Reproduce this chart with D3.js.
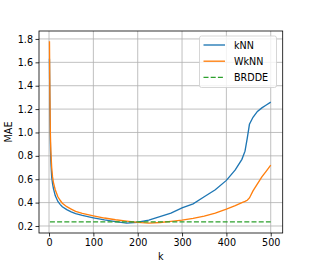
<!DOCTYPE html>
<html>
<head>
<meta charset="utf-8">
<script src="https://cdn.jsdelivr.net/npm/d3@7"></script>
<style>
body { margin: 0; background: #fff; }
svg text { font-family: "DejaVu Sans", sans-serif; fill: #000; }
.grid line { stroke: #b0b0b0; stroke-width: 0.8; }
.axis path { display: none; }
.axis line { stroke: #000; stroke-width: 0.8; }
</style>
</head>
<body>
<svg id="chart" width="314" height="262"></svg>
<script>
var ks = [1, 2, 3, 4, 6, 8, 10, 14, 20, 25, 30, 40, 50, 60, 75, 100, 125, 150, 175, 200,
          225, 250, 275, 300, 325, 350, 375, 400, 420, 435, 442, 447, 452, 460, 470, 480, 490, 500];
var knn = [1.63, 1.2, 0.92, 0.76, 0.62, 0.56, 0.52, 0.46, 0.41, 0.385, 0.365, 0.34, 0.32, 0.305, 0.29, 0.27, 0.252, 0.238, 0.225, 0.232,
           0.25, 0.28, 0.31, 0.355, 0.39, 0.45, 0.51, 0.59, 0.68, 0.77, 0.84, 0.95, 1.07, 1.13, 1.18, 1.21, 1.235, 1.26];
var wknn = [1.78, 1.3, 1.0, 0.85, 0.7, 0.62, 0.57, 0.51, 0.45, 0.42, 0.395, 0.365, 0.345, 0.325, 0.308, 0.287, 0.268, 0.253, 0.241, 0.231,
            0.225, 0.23, 0.24, 0.25, 0.265, 0.285, 0.31, 0.345, 0.375, 0.4, 0.41, 0.42, 0.44, 0.5, 0.56, 0.62, 0.67, 0.72];
var brdde = 0.235;
var brddeRange = [2, 500];

var xTicks = [0, 100, 200, 300, 400, 500];
var yTicks = [0.2, 0.4, 0.6, 0.8, 1.0, 1.2, 1.4, 1.6, 1.8];
var legendNames = ['kNN', 'WkNN', 'BRDDE'];
var colors = ['#1f77b4', '#ff7f0e', '#2ca02c'];

var plot = { left: 39, top: 31, right: 282.7, bottom: 233 };
var svg = d3.select('#chart');

var x = d3.scaleLinear().domain([-22.6, 527]).range([plot.left, plot.right]);
var y = d3.scaleLinear().domain([0.14, 1.868]).range([plot.bottom, plot.top]);

// grid
var grid = svg.append('g').classed('grid', true);
grid.selectAll('.gx').data(xTicks).enter().append('line')
    .attr('x1', function(d) { return x(d); })
    .attr('x2', function(d) { return x(d); })
    .attr('y1', plot.top).attr('y2', plot.bottom);
grid.selectAll('.gy').data(yTicks).enter().append('line')
    .attr('y1', function(d) { return y(d); })
    .attr('y2', function(d) { return y(d); })
    .attr('x1', plot.left).attr('x2', plot.right);

// axes
svg.append('g').classed('axis', true)
    .attr('transform', 'translate(0,' + plot.bottom + ')')
    .call(d3.axisBottom(x).tickValues(xTicks).tickSize(3.5).tickPadding(2.5).tickFormat(d3.format('d')))
    .selectAll('text').style('font-size', '9.6px').attr('fill', '#000');
svg.append('g').classed('axis', true)
    .attr('transform', 'translate(' + plot.left + ',0)')
    .call(d3.axisLeft(y).tickValues(yTicks).tickSize(3.5).tickPadding(2.5).tickFormat(d3.format('.1f')))
    .selectAll('text').style('font-size', '9.6px').attr('fill', '#000');

// lines
svg.append('clipPath').attr('id', 'clip').append('rect')
    .attr('x', plot.left).attr('y', plot.top)
    .attr('width', plot.right - plot.left).attr('height', plot.bottom - plot.top);

var lineGen = function(vals) {
    return d3.line()
        .x(function(d, i) { return x(ks[i]); })
        .y(function(d) { return y(d); })(vals);
};

var lines = svg.append('g').attr('clip-path', 'url(#clip)');
lines.append('path').attr('d', lineGen(knn))
    .attr('fill', 'none').attr('stroke', colors[0]).attr('stroke-width', 1.35);
lines.append('path').attr('d', lineGen(wknn))
    .attr('fill', 'none').attr('stroke', colors[1]).attr('stroke-width', 1.35);
lines.append('line')
    .attr('x1', x(brddeRange[0])).attr('x2', x(brddeRange[1]))
    .attr('y1', y(brdde)).attr('y2', y(brdde))
    .attr('stroke', colors[2]).attr('stroke-width', 1.35)
    .attr('stroke-dasharray', '5,2.2');

// frame
svg.append('rect')
    .attr('x', plot.left).attr('y', plot.top)
    .attr('width', plot.right - plot.left).attr('height', plot.bottom - plot.top)
    .attr('fill', 'none').attr('stroke', '#000').attr('stroke-width', 0.8);

// labels
svg.append('text').attr('x', (plot.left + plot.right) / 2).attr('y', 259.5)
    .attr('text-anchor', 'middle').style('font-size', '9.6px').text('k');
svg.append('text')
    .attr('transform', 'translate(11.5,' + ((plot.top + plot.bottom) / 2) + ') rotate(-90)')
    .attr('text-anchor', 'middle').style('font-size', '9.6px').text('MAE');

// legend
var legend = svg.append('g').attr('transform', 'translate(199.5,36)');
legend.append('rect')
    .attr('width', 77).attr('height', 51.5).attr('rx', 2)
    .attr('fill', '#fff').attr('fill-opacity', 0.8)
    .attr('stroke', '#cccccc').attr('stroke-width', 0.8);
var entries = legend.selectAll('.entry').data(legendNames).enter().append('g')
    .attr('transform', function(d, i) { return 'translate(0,' + (9 + i * 16.2) + ')'; });
entries.append('line')
    .attr('x1', 4).attr('x2', 25.5).attr('y1', 0).attr('y2', 0)
    .attr('stroke', function(d, i) { return colors[i]; })
    .attr('stroke-width', 1.35)
    .attr('stroke-dasharray', function(d, i) { return i == 2 ? '5,2.2' : null; });
entries.append('text')
    .attr('x', 34.5).attr('y', 3.5)
    .style('font-size', '9.6px')
    .text(function(d) { return d; });
</script>
</body>
</html>
